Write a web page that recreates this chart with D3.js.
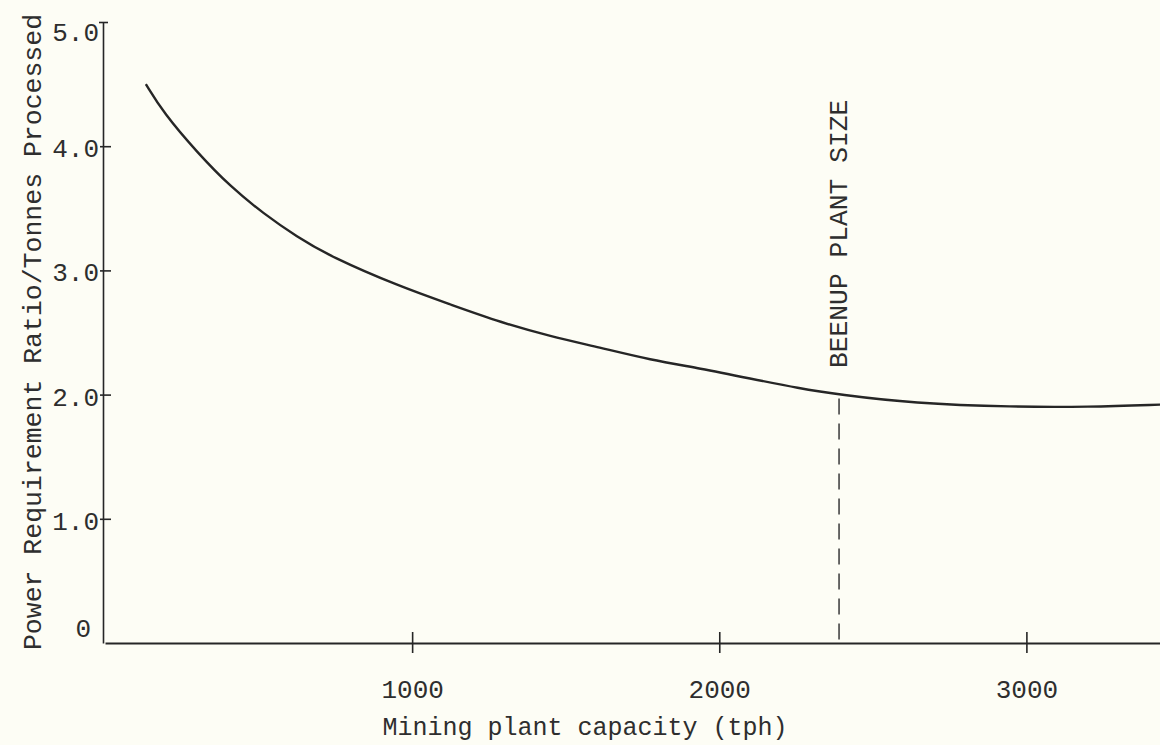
<!DOCTYPE html>
<html>
<head>
<meta charset="utf-8">
<script src="https://cdn.jsdelivr.net/npm/d3@7"></script>
<style>
  html, body { margin: 0; padding: 0; background: #fdfdf5; }
  svg { display: block; }
  text { font-family: "Courier New", "Liberation Mono", monospace; fill: #2e2e2e; }
</style>
</head>
<body>
<svg id="chart" width="1160" height="745"></svg>
<script>
// values
const capacity = [133, 190, 300, 410, 515, 625, 735, 960, 1120, 1290, 1450, 1610, 1775, 1940, 2100, 2260, 2390, 2630, 2960, 3200, 3440]
const ratio    = [4.50, 4.27, 3.95, 3.67, 3.46, 3.27, 3.11, 2.87, 2.73, 2.58, 2.47, 2.38, 2.28, 2.21, 2.13, 2.05, 2.00, 1.93, 1.90, 1.90, 1.92]
const xTicks = [1000, 2000, 3000]
const xTickLabels = ["1000", "2000", "3000"]
const yTicks = [0, 1, 2, 3, 4, 5]
const yTickLabels = ["0", "1.0", "2.0", "3.0", "4.0", "5.0"]
const plantSize = 2390

const svg = d3.select("#chart")
const ink = "#262626"
const font = "'Courier New', 'Liberation Mono', monospace"

const x = d3.scaleLinear().domain([0, 3435]).range([105, 1160])
const y = d3.scaleLinear().domain([0, 5]).range([643, 22])

// x axis
const xAxis = svg.append("g")
  .attr("transform", `translate(0,${y(0)})`)
  .call(d3.axisBottom(x).tickValues(xTicks).tickFormat((d, i) => xTickLabels[i])
    .tickSizeInner(10).tickSizeOuter(0).tickPadding(27))
xAxis.select(".domain").attr("stroke", ink).attr("stroke-width", 2)
xAxis.selectAll(".tick line").attr("y1", -11).attr("stroke", ink).attr("stroke-width", 1.6)
xAxis.selectAll(".tick text").attr("font-size", 26).attr("fill", "#2e2e2e").attr("font-family", font)

// y axis
const yAxis = svg.append("g")
  .attr("transform", `translate(${x(0) - 2},0)`)
  .call(d3.axisLeft(y).tickValues(yTicks).tickFormat((d, i) => yTickLabels[i])
    .tickSizeInner(-8).tickSizeOuter(0).tickPadding(4))
yAxis.select(".domain").attr("stroke", ink).attr("stroke-width", 1.6)
yAxis.selectAll(".tick line").attr("x1", -3).attr("stroke", ink).attr("stroke-width", 1.6)
  .filter(d => d === 0).remove()
yAxis.selectAll(".tick line").filter(d => d === 5).attr("x1", -4).attr("x2", 5)
yAxis.selectAll(".tick text").attr("font-size", 26).attr("fill", "#2e2e2e").attr("font-family", font)
  .attr("dy", d => d === 5 ? "0.7em" : "0.4em")
yAxis.selectAll(".tick text").filter(d => d === 0).attr("x", -12).attr("dy", "-0.25em")

// curve
const line = d3.line()
  .x((d, i) => x(capacity[i]))
  .y(d => y(d))
  .curve(d3.curveBasis)

svg.append("path")
  .datum(ratio)
  .attr("d", line)
  .attr("fill", "none")
  .attr("stroke", ink)
  .attr("stroke-width", 2.4)

// plant size marker
svg.append("line")
  .attr("x1", x(plantSize)).attr("x2", x(plantSize))
  .attr("y1", y(ratio[capacity.indexOf(plantSize)]) + 4).attr("y2", y(0))
  .attr("stroke", "#444")
  .attr("stroke-width", 1.6)
  .attr("stroke-dasharray", "16,9")

svg.append("text")
  .attr("transform", `translate(${x(plantSize) + 8},368) rotate(-90)`)
  .attr("font-size", 26.3)
  .text("BEENUP PLANT SIZE")

// axis titles
svg.append("text")
  .attr("x", 585).attr("y", 735)
  .attr("text-anchor", "middle")
  .attr("font-size", 25)
  .text("Mining plant capacity (tph)")

svg.append("text")
  .attr("transform", "translate(41,332) rotate(-90)")
  .attr("text-anchor", "middle")
  .attr("font-size", 26.5)
  .text("Power Requirement Ratio/Tonnes Processed")
</script>
</body>
</html>
